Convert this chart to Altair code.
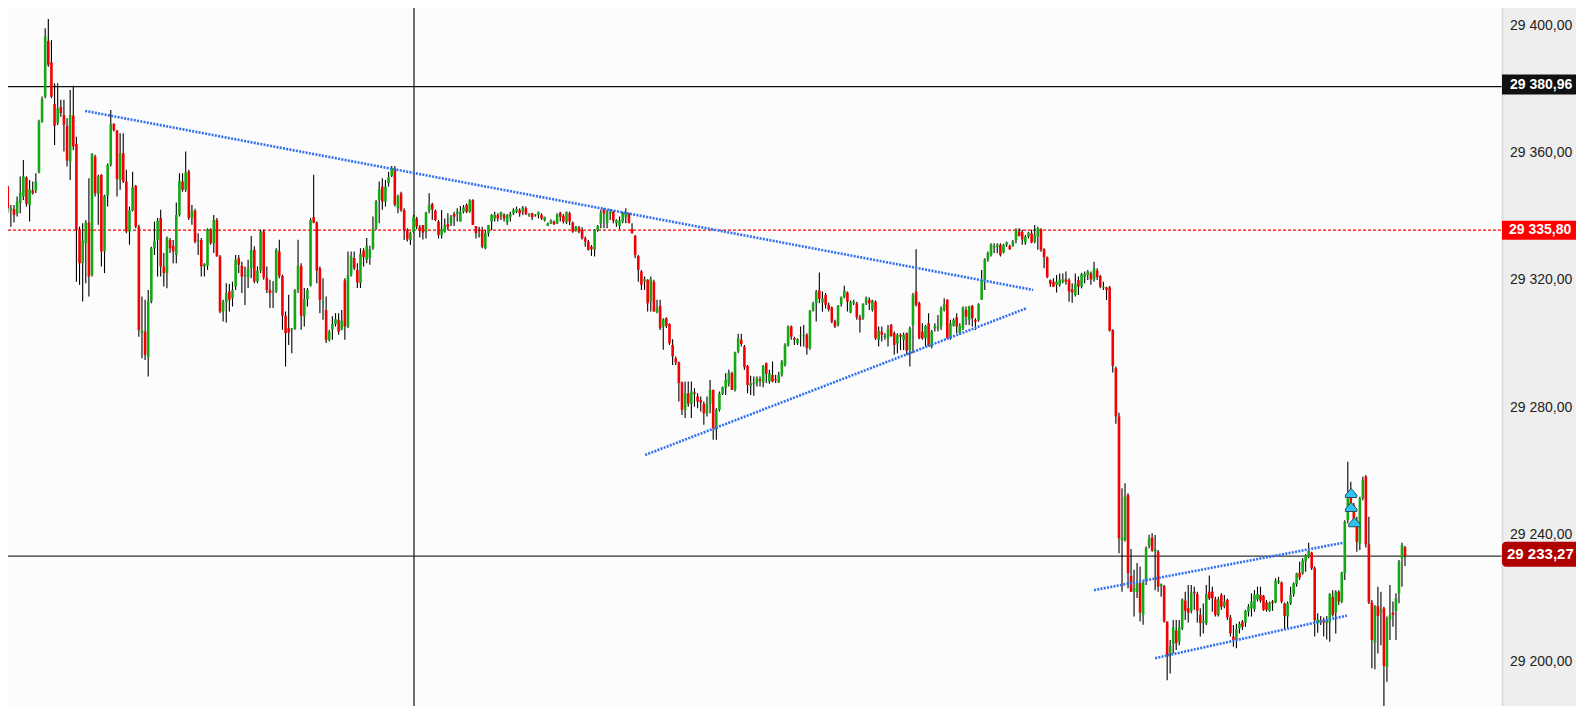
import altair as alt
import pandas as pd

# ---------------- data ----------------
opens = [
29352.7, 29356.3, 29349.5, 29342.0, 29342.4, 29341.1, 29344.3, 29346.4, 29352.4, 29343.7,
29348.3, 29348.3, 29353.9, 29369.9, 29377.8, 29395.3, 29388.5, 29375.5, 29369.6, 29374.5,
29372.0, 29368.6, 29357.4, 29371.8, 29362.9, 29335.9, 29325.4, 29331.7, 29338.2, 29321.7,
29358.9, 29347.2, 29353.2, 29329.1, 29346.6, 29356.3, 29369.2, 29367.1, 29351.6, 29360.0,
29351.1, 29335.4, 29342.0, 29349.7, 29336.9, 29303.6, 29303.9, 29295.9, 29313.4, 29330.1,
29332.7, 29339.6, 29324.4, 29322.3, 29332.7, 29330.9, 29328.0, 29340.6, 29351.1, 29348.5,
29354.2, 29339.6, 29341.9, 29332.2, 29332.7, 29324.4, 29324.6, 29336.1, 29331.7, 29339.0,
29327.5, 29310.2, 29313.2, 29316.5, 29314.4, 29318.1, 29327.0, 29324.6, 29321.4, 29321.0,
29323.8, 29329.6, 29319.7, 29323.1, 29335.4, 29320.9, 29317.0, 29316.3, 29316.5, 29329.1,
29321.4, 29308.9, 29305.0, 29304.5, 29304.7, 29317.0, 29324.6, 29308.7, 29314.1, 29318.3,
29339.9, 29338.2, 29323.8, 29313.0, 29310.7, 29301.3, 29304.5, 29306.3, 29307.6, 29304.5,
29320.0, 29305.5, 29321.7, 29327.0, 29323.3, 29319.1, 29329.4, 29326.5, 29327.0, 29330.1,
29336.4, 29345.3, 29349.5, 29344.8, 29350.6, 29352.9, 29355.3, 29342.7, 29347.4, 29342.1,
29335.8, 29332.7, 29335.3, 29339.5, 29336.7, 29337.4, 29335.3, 29341.9, 29344.0, 29341.9,
29338.5, 29334.3, 29335.3, 29337.7, 29337.9, 29340.9, 29340.9, 29338.5, 29341.6, 29343.7,
29341.6, 29345.3, 29337.1, 29334.1, 29335.8, 29330.1, 29334.8, 29338.5, 29339.5, 29340.6,
29340.3, 29340.6, 29338.2, 29340.0, 29341.1, 29341.6, 29342.1, 29341.6, 29342.7, 29340.6,
29341.1, 29340.4, 29340.6, 29340.6, 29338.8, 29337.1, 29337.9, 29338.5, 29338.0, 29341.3,
29340.3, 29338.2, 29341.1, 29338.2, 29335.6, 29336.6, 29335.8, 29333.2, 29332.2, 29330.6,
29329.6, 29335.8, 29337.8, 29342.4, 29338.0, 29340.9, 29341.6, 29338.0, 29337.1, 29338.5,
29339.9, 29341.1, 29336.1, 29334.0, 29327.7, 29322.8, 29319.6, 29320.2, 29313.4, 29319.6,
29309.9, 29312.0, 29305.5, 29308.1, 29306.3, 29299.7, 29295.5, 29294.2, 29287.9, 29279.3,
29284.5, 29281.2, 29284.8, 29283.5, 29282.4, 29281.2, 29278.2, 29281.2, 29285.6, 29273.2,
29279.3, 29284.3, 29286.1, 29287.7, 29290.8, 29285.6, 29297.6, 29301.3, 29299.2, 29293.1,
29286.8, 29287.5, 29287.7, 29288.9, 29287.9, 29294.0, 29288.2, 29290.3, 29288.9, 29287.9,
29290.3, 29293.4, 29299.5, 29305.5, 29301.8, 29300.2, 29302.4, 29302.4, 29302.9, 29298.7,
29310.5, 29312.8, 29316.8, 29313.1, 29315.4, 29312.3, 29311.5, 29307.1, 29306.0, 29312.6,
29314.7, 29316.2, 29309.9, 29312.8, 29312.8, 29308.4, 29308.1, 29312.8, 29313.9, 29310.7,
29313.3, 29301.3, 29303.9, 29302.2, 29301.8, 29306.0, 29303.4, 29300.2, 29302.9, 29301.3,
29303.4, 29298.1, 29305.9, 29316.5, 29312.8, 29303.9, 29301.8, 29306.5, 29299.2, 29304.9,
29304.9, 29305.5, 29310.7, 29313.9, 29301.8, 29305.7, 29308.4, 29303.4, 29305.0, 29310.7,
29307.6, 29312.0, 29307.6, 29307.4, 29313.9, 29320.1, 29326.6, 29328.0, 29330.4, 29330.6,
29331.2, 29328.7, 29331.2, 29330.8, 29330.8, 29332.7, 29335.3, 29335.3, 29331.9, 29333.8,
29334.8, 29332.2, 29333.8, 29336.1, 29329.8, 29327.3, 29320.1, 29319.6, 29318.6, 29318.6,
29319.6, 29320.3, 29320.1, 29317.2, 29315.4, 29320.1, 29318.0, 29321.0, 29321.7, 29322.2,
29320.3, 29323.1, 29321.4, 29317.7, 29317.8, 29317.8, 29304.4, 29292.4, 29277.2, 29238.2,
29238.4, 29252.5, 29227.1, 29222.1, 29222.1, 29224.8, 29214.8, 29225.8, 29236.5, 29239.2,
29234.7, 29234.7, 29223.9, 29223.9, 29212.7, 29202.7, 29205.7, 29209.9, 29206.4, 29210.6,
29219.3, 29216.9, 29216.1, 29222.1, 29221.4, 29214.8, 29212.4, 29212.2, 29222.1, 29222.1,
29219.7, 29214.8, 29221.1, 29217.4, 29219.5, 29214.0, 29208.0, 29206.9, 29210.6, 29212.7,
29212.4, 29215.8, 29216.9, 29216.6, 29219.7, 29221.1, 29220.8, 29218.7, 29216.1, 29219.0,
29218.7, 29225.0, 29225.0, 29218.4, 29214.3, 29218.4, 29221.4, 29224.5, 29228.1, 29227.9,
29231.6, 29233.1, 29234.4, 29229.5, 29212.2, 29212.4, 29213.2, 29212.2, 29212.4, 29220.5,
29215.5, 29222.1, 29219.0, 29227.9, 29244.6, 29251.5, 29249.4, 29243.6, 29237.3, 29251.5,
29258.3, 29237.0, 29218.7, 29206.1, 29217.6, 29215.5, 29216.9, 29198.5, 29213.2, 29215.5,
29216.1, 29221.6, 29232.6, 29236.1,
]

closes = [
29357.9, 29350.6, 29342.7, 29342.7, 29340.6, 29344.8, 29347.6, 29352.7, 29344.1, 29348.7,
29347.4, 29351.1, 29369.9, 29377.1, 29396.7, 29387.8, 29377.8, 29368.6, 29374.1, 29372.6,
29368.9, 29357.7, 29372.0, 29362.1, 29335.9, 29325.4, 29332.5, 29338.2, 29321.2, 29359.8,
29347.4, 29352.7, 29329.1, 29346.6, 29356.3, 29369.2, 29367.3, 29351.9, 29360.0, 29351.1,
29335.4, 29342.0, 29349.3, 29336.9, 29304.4, 29304.2, 29296.6, 29313.4, 29330.1, 29332.5,
29338.8, 29324.4, 29322.3, 29333.3, 29330.1, 29329.1, 29340.6, 29351.3, 29348.5, 29354.0,
29339.6, 29341.9, 29332.2, 29332.6, 29324.4, 29325.2, 29336.1, 29331.7, 29339.0, 29327.5,
29310.2, 29313.2, 29316.0, 29313.9, 29317.0, 29326.5, 29324.9, 29321.2, 29321.7, 29323.8,
29329.6, 29319.7, 29323.1, 29335.4, 29320.9, 29317.0, 29316.0, 29316.6, 29329.6, 29321.4,
29308.9, 29303.4, 29303.6, 29304.8, 29317.0, 29324.6, 29308.9, 29314.1, 29317.0, 29339.0,
29338.2, 29323.1, 29313.9, 29313.3, 29301.3, 29303.8, 29306.3, 29307.9, 29303.9, 29307.3,
29305.5, 29321.7, 29327.5, 29323.8, 29319.4, 29328.4, 29327.3, 29330.9, 29329.8, 29336.4,
29344.8, 29348.7, 29344.8, 29349.5, 29352.5, 29355.3, 29343.8, 29346.4, 29342.1, 29335.8,
29332.9, 29335.0, 29340.0, 29336.9, 29335.8, 29335.0, 29341.3, 29343.7, 29342.3, 29339.0,
29334.3, 29336.1, 29337.4, 29336.7, 29340.0, 29340.0, 29341.6, 29341.6, 29343.0, 29341.6,
29345.1, 29337.4, 29334.8, 29334.4, 29330.6, 29334.8, 29337.4, 29340.6, 29340.6, 29339.5,
29341.5, 29339.5, 29340.6, 29340.9, 29342.1, 29342.5, 29341.1, 29343.0, 29340.9, 29340.9,
29339.8, 29340.7, 29341.6, 29339.5, 29340.0, 29337.9, 29338.8, 29337.7, 29340.6, 29340.0,
29338.5, 29341.6, 29338.5, 29335.3, 29336.9, 29335.3, 29333.2, 29332.2, 29329.6, 29329.8,
29335.8, 29337.1, 29341.3, 29341.1, 29341.3, 29341.6, 29338.8, 29339.0, 29338.8, 29341.1,
29341.1, 29338.0, 29334.8, 29328.0, 29323.3, 29318.6, 29320.4, 29312.8, 29320.4, 29310.2,
29311.5, 29305.0, 29307.8, 29305.7, 29300.2, 29296.1, 29294.2, 29287.7, 29279.3, 29284.5,
29281.2, 29285.1, 29284.3, 29281.9, 29281.6, 29278.2, 29281.2, 29285.6, 29273.5, 29279.3,
29284.5, 29286.4, 29288.7, 29291.0, 29285.6, 29297.3, 29301.8, 29300.0, 29292.7, 29287.1,
29287.7, 29287.8, 29289.2, 29288.4, 29293.1, 29290.6, 29290.8, 29288.2, 29288.5, 29290.3,
29294.5, 29299.7, 29305.5, 29302.3, 29301.3, 29301.5, 29302.7, 29302.7, 29298.7, 29310.5,
29312.8, 29316.5, 29314.2, 29314.4, 29312.3, 29310.9, 29307.1, 29305.5, 29312.1, 29314.7,
29316.8, 29313.3, 29313.3, 29313.3, 29308.4, 29307.6, 29312.6, 29314.4, 29312.8, 29313.7,
29301.8, 29304.1, 29302.9, 29302.5, 29304.6, 29302.5, 29299.7, 29302.9, 29302.3, 29302.9,
29297.9, 29304.9, 29315.4, 29312.3, 29301.8, 29301.8, 29305.7, 29299.4, 29303.9, 29305.7,
29305.5, 29311.2, 29312.6, 29301.8, 29306.5, 29307.6, 29305.5, 29305.7, 29311.5, 29308.6,
29311.8, 29308.1, 29307.0, 29312.6, 29320.1, 29326.6, 29328.5, 29331.2, 29330.8, 29331.2,
29328.0, 29331.2, 29331.9, 29329.8, 29332.2, 29335.9, 29334.0, 29332.9, 29333.8, 29335.0,
29331.9, 29334.3, 29336.4, 29329.6, 29327.3, 29321.0, 29318.9, 29318.0, 29319.6, 29320.3,
29320.3, 29319.6, 29316.5, 29316.2, 29318.9, 29318.0, 29322.0, 29322.0, 29322.8, 29320.3,
29323.8, 29321.0, 29318.0, 29318.0, 29317.0, 29304.2, 29293.1, 29277.2, 29238.9, 29239.2,
29252.0, 29227.9, 29222.1, 29223.2, 29224.8, 29215.5, 29224.8, 29235.8, 29238.9, 29235.0,
29235.4, 29223.7, 29224.5, 29212.7, 29202.2, 29205.0, 29210.9, 29205.9, 29210.9, 29219.7,
29216.1, 29215.5, 29221.8, 29221.6, 29216.1, 29212.2, 29213.0, 29221.4, 29220.0, 29220.0,
29214.8, 29219.7, 29217.4, 29219.0, 29214.0, 29209.0, 29206.9, 29210.3, 29212.0, 29211.1,
29216.1, 29217.4, 29219.0, 29221.1, 29221.4, 29219.3, 29216.4, 29216.4, 29218.7, 29218.5,
29225.6, 29225.6, 29219.0, 29214.5, 29218.4, 29221.1, 29224.7, 29227.9, 29226.6, 29231.9,
29233.6, 29235.0, 29229.5, 29213.2, 29213.4, 29213.2, 29212.4, 29213.2, 29221.4, 29214.8,
29222.1, 29219.0, 29228.1, 29244.1, 29251.5, 29249.4, 29243.6, 29237.8, 29251.5, 29257.2,
29237.0, 29218.7, 29206.9, 29217.4, 29214.5, 29216.4, 29198.7, 29213.4, 29214.8, 29214.8,
29220.0, 29231.5, 29236.8, 29233.3,
]

highs = [
29359.0, 29356.8, 29350.0, 29343.7, 29343.7, 29346.4, 29352.7, 29357.9, 29352.7, 29351.6,
29351.1, 29353.7, 29370.5, 29377.8, 29399.3, 29402.2, 29395.6, 29382.0, 29382.0, 29376.8,
29376.8, 29371.0, 29379.9, 29381.2, 29365.2, 29336.9, 29338.0, 29339.0, 29352.1, 29360.0,
29359.5, 29353.2, 29353.4, 29346.9, 29356.8, 29373.6, 29369.4, 29367.3, 29366.3, 29366.3,
29354.8, 29343.2, 29354.2, 29350.0, 29337.5, 29314.9, 29313.9, 29317.0, 29330.6, 29338.5,
29339.6, 29342.2, 29328.6, 29333.8, 29333.3, 29332.7, 29344.5, 29353.7, 29353.7, 29360.5,
29354.8, 29343.7, 29342.5, 29334.8, 29333.3, 29325.4, 29336.4, 29336.4, 29340.6, 29339.6,
29328.0, 29313.9, 29319.1, 29318.9, 29319.6, 29328.0, 29328.0, 29325.9, 29324.4, 29326.5,
29334.0, 29330.7, 29324.4, 29335.9, 29335.9, 29324.4, 29320.2, 29319.7, 29330.1, 29332.8,
29321.8, 29310.2, 29315.5, 29305.0, 29317.2, 29332.8, 29325.4, 29317.6, 29317.6, 29339.6,
29353.2, 29338.5, 29324.4, 29320.7, 29314.9, 29304.5, 29308.7, 29309.7, 29309.7, 29310.7,
29320.7, 29329.1, 29329.1, 29329.1, 29325.4, 29330.1, 29330.1, 29333.3, 29330.9, 29340.1,
29345.3, 29351.1, 29352.1, 29351.6, 29354.2, 29356.0, 29356.0, 29346.9, 29347.9, 29342.7,
29336.4, 29335.3, 29340.6, 29340.0, 29337.4, 29337.4, 29341.6, 29347.4, 29344.4, 29342.3,
29339.0, 29342.1, 29339.5, 29341.1, 29340.6, 29341.6, 29342.7, 29343.4, 29343.7, 29344.2,
29345.5, 29345.5, 29337.1, 29336.9, 29336.9, 29335.8, 29337.4, 29340.9, 29341.6, 29341.1,
29341.6, 29341.1, 29340.9, 29341.6, 29342.7, 29343.2, 29342.7, 29343.4, 29343.2, 29341.1,
29341.3, 29340.9, 29341.6, 29341.1, 29340.0, 29338.2, 29339.2, 29338.8, 29341.1, 29341.6,
29340.9, 29341.6, 29341.6, 29338.5, 29337.1, 29337.1, 29336.7, 29333.8, 29332.7, 29331.1,
29336.1, 29337.4, 29342.2, 29342.7, 29342.2, 29342.4, 29341.9, 29339.2, 29340.1, 29341.5,
29342.7, 29341.3, 29338.0, 29334.3, 29328.0, 29323.3, 29321.2, 29320.4, 29321.2, 29320.2,
29313.9, 29313.9, 29308.1, 29308.4, 29306.5, 29301.5, 29296.1, 29294.5, 29288.2, 29288.2,
29288.2, 29288.2, 29286.1, 29284.5, 29283.5, 29281.9, 29283.5, 29288.7, 29285.6, 29279.8,
29285.1, 29286.6, 29290.8, 29291.9, 29291.3, 29297.6, 29303.2, 29303.2, 29299.7, 29293.4,
29290.0, 29289.8, 29289.8, 29289.8, 29293.4, 29294.2, 29291.9, 29294.5, 29290.3, 29291.3,
29295.0, 29300.2, 29305.8, 29305.8, 29302.3, 29301.8, 29305.5, 29306.0, 29303.4, 29310.7,
29313.3, 29317.0, 29322.5, 29316.5, 29316.0, 29313.0, 29311.8, 29307.6, 29312.3, 29314.9,
29318.3, 29316.5, 29313.7, 29313.9, 29313.3, 29309.2, 29312.8, 29314.9, 29314.7, 29313.9,
29313.7, 29305.5, 29305.5, 29303.4, 29306.0, 29306.3, 29303.9, 29303.4, 29303.4, 29303.6,
29303.6, 29305.5, 29316.0, 29329.8, 29313.3, 29306.5, 29306.0, 29309.7, 29304.4, 29306.5,
29309.1, 29311.8, 29314.4, 29314.1, 29307.6, 29308.1, 29309.7, 29306.5, 29311.8, 29311.8,
29312.0, 29312.3, 29308.1, 29312.8, 29323.3, 29327.0, 29329.1, 29331.7, 29331.7, 29331.7,
29331.7, 29331.5, 29332.2, 29331.2, 29332.7, 29336.4, 29336.4, 29335.9, 29334.3, 29335.3,
29335.9, 29337.4, 29336.9, 29336.4, 29330.1, 29327.5, 29320.3, 29320.7, 29321.7, 29322.2,
29322.2, 29322.8, 29320.7, 29319.1, 29322.2, 29321.2, 29322.4, 29322.8, 29323.3, 29322.8,
29325.9, 29323.8, 29321.7, 29319.6, 29318.0, 29318.2, 29304.6, 29292.9, 29278.4, 29254.6,
29256.2, 29253.1, 29235.5, 29229.0, 29231.1, 29230.0, 29225.3, 29236.3, 29240.0, 29240.5,
29239.9, 29235.2, 29224.7, 29224.2, 29212.7, 29206.9, 29213.2, 29213.2, 29213.2, 29220.0,
29222.1, 29224.2, 29224.2, 29223.7, 29222.1, 29216.9, 29218.4, 29224.2, 29227.2, 29223.7,
29220.5, 29220.5, 29221.6, 29221.1, 29220.0, 29214.8, 29211.6, 29212.0, 29212.7, 29213.2,
29216.4, 29218.2, 29221.6, 29222.6, 29223.7, 29223.7, 29221.1, 29219.5, 29219.0, 29219.5,
29226.3, 29226.8, 29225.3, 29218.7, 29219.0, 29223.7, 29225.0, 29228.1, 29231.5, 29232.6,
29234.0, 29237.5, 29234.7, 29230.0, 29215.3, 29214.5, 29214.0, 29214.5, 29221.6, 29222.6,
29222.6, 29222.6, 29228.4, 29244.6, 29263.0, 29256.7, 29250.0, 29245.7, 29252.0, 29258.3,
29258.8, 29245.7, 29219.5, 29217.9, 29223.7, 29222.1, 29217.4, 29214.3, 29224.2, 29219.0,
29221.6, 29232.1, 29237.5, 29236.5,
]

lows = [
29349.5, 29350.0, 29341.1, 29336.9, 29338.2, 29340.1, 29341.1, 29345.3, 29343.2, 29338.5,
29347.0, 29347.5, 29353.7, 29369.6, 29377.3, 29387.2, 29377.3, 29362.6, 29368.9, 29371.5,
29360.5, 29355.8, 29351.6, 29361.0, 29319.6, 29318.6, 29313.4, 29319.1, 29314.9, 29321.2,
29346.4, 29337.5, 29324.4, 29322.3, 29343.2, 29355.8, 29366.8, 29346.4, 29348.5, 29350.6,
29334.8, 29331.2, 29341.7, 29336.4, 29302.3, 29295.5, 29295.0, 29289.8, 29312.8, 29328.0,
29321.2, 29321.2, 29318.1, 29317.5, 29328.6, 29325.4, 29325.4, 29340.1, 29347.9, 29347.9,
29339.0, 29337.5, 29331.7, 29328.0, 29321.2, 29321.2, 29323.3, 29331.2, 29328.6, 29327.5,
29309.7, 29307.1, 29306.8, 29310.2, 29311.8, 29317.0, 29322.3, 29316.0, 29312.3, 29317.6,
29320.7, 29319.1, 29319.1, 29322.3, 29320.2, 29316.0, 29311.3, 29311.3, 29316.0, 29320.7,
29304.5, 29292.9, 29299.7, 29297.1, 29304.5, 29316.0, 29304.5, 29305.5, 29311.8, 29318.1,
29338.0, 29319.1, 29309.7, 29307.6, 29300.3, 29300.8, 29301.3, 29305.5, 29302.9, 29304.3,
29301.3, 29305.0, 29321.2, 29323.3, 29317.6, 29317.6, 29324.4, 29325.4, 29324.9, 29329.6,
29335.9, 29338.0, 29342.2, 29343.2, 29349.5, 29352.5, 29343.2, 29341.1, 29341.6, 29332.7,
29332.2, 29331.1, 29335.0, 29336.1, 29333.5, 29332.9, 29333.2, 29341.1, 29339.0, 29338.7,
29333.2, 29333.2, 29335.0, 29335.8, 29337.1, 29337.1, 29338.5, 29338.5, 29341.1, 29341.1,
29341.3, 29337.4, 29333.2, 29333.5, 29330.1, 29329.8, 29333.8, 29335.8, 29338.5, 29338.5,
29339.0, 29338.5, 29337.4, 29338.5, 29340.6, 29341.1, 29340.0, 29340.6, 29340.6, 29340.0,
29339.0, 29340.0, 29339.5, 29339.0, 29338.5, 29337.1, 29337.7, 29337.4, 29337.7, 29338.5,
29337.9, 29337.7, 29337.4, 29335.0, 29335.3, 29334.8, 29332.9, 29330.6, 29329.4, 29327.7,
29327.5, 29335.3, 29336.4, 29336.4, 29336.4, 29339.0, 29338.0, 29336.9, 29336.1, 29338.0,
29338.0, 29338.0, 29334.8, 29327.0, 29319.6, 29317.0, 29317.0, 29310.2, 29310.2, 29310.2,
29309.7, 29304.4, 29298.2, 29305.0, 29299.7, 29293.4, 29293.4, 29281.9, 29277.7, 29276.7,
29280.3, 29276.7, 29280.3, 29279.8, 29278.8, 29274.6, 29277.2, 29278.2, 29269.9, 29269.9,
29278.8, 29284.0, 29284.0, 29286.6, 29285.6, 29285.1, 29297.1, 29299.2, 29291.9, 29284.5,
29284.0, 29283.7, 29286.6, 29286.6, 29286.4, 29287.7, 29287.5, 29287.9, 29287.7, 29287.7,
29289.8, 29292.9, 29299.2, 29301.3, 29299.7, 29299.7, 29299.2, 29299.2, 29296.6, 29298.2,
29310.2, 29307.1, 29312.8, 29310.2, 29311.2, 29310.2, 29306.5, 29305.0, 29305.5, 29311.8,
29314.4, 29310.2, 29309.7, 29312.3, 29307.6, 29303.6, 29307.6, 29312.3, 29310.7, 29310.2,
29301.3, 29299.2, 29300.8, 29301.3, 29299.2, 29302.3, 29296.6, 29297.1, 29298.1, 29298.1,
29296.6, 29292.9, 29297.1, 29311.8, 29301.5, 29301.3, 29299.2, 29299.2, 29298.7, 29303.9,
29303.9, 29304.4, 29310.2, 29301.5, 29301.3, 29305.5, 29303.4, 29302.9, 29304.4, 29306.0,
29306.0, 29305.5, 29304.4, 29307.0, 29313.9, 29317.0, 29325.9, 29327.5, 29328.5, 29328.5,
29327.5, 29328.5, 29330.6, 29329.6, 29330.6, 29331.7, 29333.8, 29331.2, 29331.2, 29333.2,
29331.7, 29331.7, 29329.6, 29329.0, 29323.8, 29320.7, 29318.0, 29318.0, 29316.2, 29318.0,
29319.1, 29318.6, 29313.3, 29313.0, 29314.9, 29315.4, 29317.5, 29319.1, 29320.1, 29318.6,
29319.6, 29320.1, 29317.5, 29317.0, 29313.8, 29303.9, 29291.0, 29274.9, 29234.2, 29222.1,
29237.9, 29223.2, 29222.1, 29214.3, 29220.1, 29212.7, 29211.7, 29224.2, 29235.8, 29234.7,
29222.6, 29222.1, 29220.5, 29212.4, 29194.3, 29196.4, 29202.7, 29203.8, 29205.3, 29210.1,
29213.2, 29212.4, 29215.3, 29216.4, 29212.4, 29208.0, 29209.0, 29211.6, 29219.5, 29215.8,
29214.3, 29214.3, 29216.4, 29216.9, 29213.2, 29208.0, 29204.8, 29204.3, 29209.0, 29210.1,
29211.1, 29214.3, 29214.3, 29215.8, 29219.0, 29218.7, 29216.1, 29215.8, 29215.8, 29216.1,
29218.5, 29224.5, 29218.5, 29210.1, 29210.6, 29217.9, 29220.5, 29223.7, 29225.8, 29227.4,
29228.4, 29232.6, 29228.9, 29208.0, 29209.2, 29211.6, 29208.0, 29207.1, 29206.4, 29214.3,
29209.0, 29217.9, 29218.5, 29225.8, 29243.6, 29248.8, 29242.5, 29234.7, 29235.2, 29250.9,
29236.0, 29218.2, 29198.0, 29197.7, 29202.7, 29205.3, 29182.8, 29193.8, 29206.9, 29211.1,
29206.9, 29218.5, 29223.7, 29230.2,
]

axis_ticks = [29200, 29240, 29280, 29320, 29360, 29400]
crosshair_price = 29380.96
alert_price = 29335.80
last_price = 29233.27
crosshair_bar = 132.15

trend_x1 = [26.8, 206.2, 350.0, 370.0]
trend_y1 = [29373.3, 29265.1, 29222.6, 29201.2]
trend_x2 = [330.5, 328.5, 432.5, 433.7]
trend_y2 = [29317.0, 29311.3, 29237.5, 29214.6]

signal_bar = [435.1, 435.1, 436.2]
signal_price = [29252.8, 29248.4, 29243.6]

# ---------------- layout / style ----------------
W, H = 1568, 698
PANEL_X = 1494
PX_PER_PT = 3.18
FONT = "Liberation Sans"
GREEN = "#14a814"
RED = "#f40000"
BLUE = "#2f6ff0"
ARROW = "M0,-1L1,0.15L1,0.6L-1,0.6L-1,0.15Z"

y_top = 29400 + (26 - 8) / PX_PER_PT
y_bot = 29400 - (8 + H - 26) / PX_PER_PT
ys = alt.Scale(domain=[y_bot, y_top], zero=False, nice=False)
xs = alt.Scale(domain=[0, 358, 453], range=[-6.5, 1111, 1397], zero=False, nice=False)


def fmt(v):
    return f"{v:,.2f}".replace(",", " ").replace(".", ",")


n = min(len(opens), len(closes), len(highs), len(lows))
candles = pd.DataFrame({
    "i": list(range(n)),
    "o": opens[:n], "c": closes[:n], "h": highs[:n], "l": lows[:n],
})
candles["col"] = [GREEN if c >= o else RED for o, c in zip(candles.o, candles.c)]

wicks = alt.Chart(candles).mark_rule(color="#000000", strokeWidth=1.1).encode(
    x=alt.X("i:Q", scale=xs, axis=None),
    y=alt.Y("l:Q", scale=ys, axis=None),
    y2="h:Q",
)
bodies = alt.Chart(candles).mark_rule(strokeWidth=2.6, strokeCap="butt").encode(
    x=alt.X("i:Q", scale=xs, axis=None),
    y=alt.Y("o:Q", scale=ys, axis=None),
    y2="c:Q",
    color=alt.Color("col:N", scale=None, legend=None),
)

trend_df = pd.DataFrame({"x1": trend_x1, "y1": trend_y1, "x2": trend_x2, "y2": trend_y2})
trends = alt.Chart(trend_df).mark_rule(color=BLUE, strokeWidth=2.6, strokeDash=[2, 1.3]).encode(
    x=alt.X("x1:Q", scale=xs, axis=None), x2="x2:Q",
    y=alt.Y("y1:Q", scale=ys, axis=None), y2="y2:Q",
)

sig_df = pd.DataFrame({"i": signal_bar, "p": signal_price})
signals = alt.Chart(sig_df).mark_point(
    shape=ARROW, filled=True, fill="#2cc3ee", stroke="#34495a",
    strokeWidth=1, size=130, opacity=1,
).encode(
    x=alt.X("i:Q", scale=xs, axis=None),
    y=alt.Y("p:Q", scale=ys, axis=None),
)


def hline(price, color, dash=None, width=1.2):
    kw = dict(color=color, strokeWidth=width)
    if dash:
        kw["strokeDash"] = dash
    return alt.Chart(pd.DataFrame({"p": [price]})).mark_rule(**kw).encode(
        x=alt.value(0), x2=alt.value(PANEL_X),
        y=alt.Y("p:Q", scale=ys, axis=None),
    )


line_cross = hline(crosshair_price, "#111111")
line_alert = hline(alert_price, "#ff0000", dash=[3, 2], width=1.1)
line_last = hline(last_price, "#333333")

vline = alt.Chart(pd.DataFrame({"i": [crosshair_bar]})).mark_rule(color="#111111", strokeWidth=1.2).encode(
    x=alt.X("i:Q", scale=xs, axis=None),
    y=alt.value(0), y2=alt.value(H),
)

panel = alt.Chart(pd.DataFrame({"a": [0]})).mark_rect(color="#eeeeee").encode(
    x=alt.value(PANEL_X), x2=alt.value(W + 10), y=alt.value(0), y2=alt.value(H),
)
panel_edge = alt.Chart(pd.DataFrame({"a": [0]})).mark_rule(color="#dcdcdc", strokeWidth=2).encode(
    x=alt.value(PANEL_X + 0.5), y=alt.value(0), y2=alt.value(H),
)

tick_df = pd.DataFrame({"p": axis_ticks, "t": [fmt(v) for v in axis_ticks]})
tick_labels = alt.Chart(tick_df).mark_text(
    align="left", baseline="middle", font=FONT, fontSize=14, color="#222222",
).encode(
    x=alt.value(PANEL_X + 8), y=alt.Y("p:Q", scale=ys, axis=None), text="t:N",
)


def tag(price, fill, half, font_size, tx, radius=0, dy=0):
    d = pd.DataFrame({"p": [price], "t": [fmt(price)]})
    box = alt.Chart(d).mark_rect(
        color=fill, yOffset=-half + dy, y2Offset=half + dy, cornerRadius=radius,
    ).encode(
        x=alt.value(PANEL_X), x2=alt.value(W + 12),
        y=alt.Y("p:Q", scale=ys, axis=None), y2="p:Q",
    )
    txt = alt.Chart(d).mark_text(
        align="left", baseline="middle", font=FONT, fontSize=font_size,
        fontWeight="bold", color="#ffffff", dy=dy,
    ).encode(
        x=alt.value(tx), y=alt.Y("p:Q", scale=ys, axis=None), text="t:N",
    )
    return box + txt


tag_cross = tag(crosshair_price, "#111111", 10, 14, PANEL_X + 8, dy=-2)
tag_alert = tag(alert_price, "#ff0000", 9.5, 14, PANEL_X + 7)
tag_last = tag(last_price, "#b00000", 12.5, 15, PANEL_X + 5, radius=4, dy=-2)

chart = alt.layer(
    line_alert, line_cross, line_last, vline,
    wicks, bodies, trends, signals,
    panel, panel_edge, tick_labels,
    tag_cross, tag_alert, tag_last,
).properties(
    width=W, height=H, padding=0,
    autosize=alt.AutoSizeParams(type="none"),
).configure_view(stroke=None, fill="#fcfcfc")

chart.save("out.html", embed_options={"renderer": "svg", "actions": False})
